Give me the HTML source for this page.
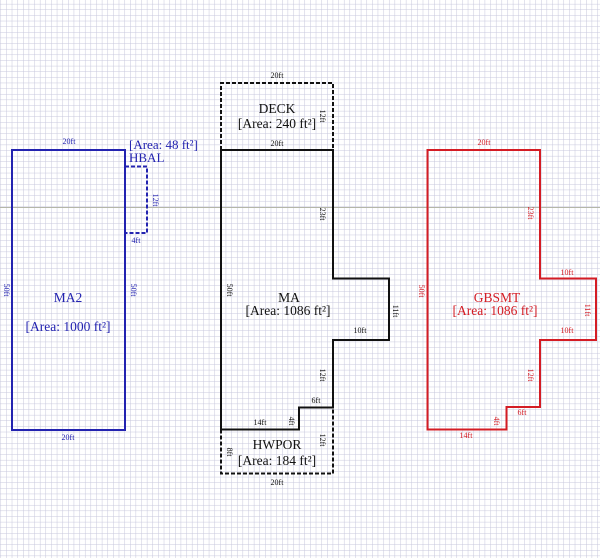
<!DOCTYPE html>
<html><head><meta charset="utf-8"><style>
html,body{margin:0;padding:0;background:#fff;}
svg{display:block;}
text{font-family:"Liberation Serif",serif;}
.d{font-size:8px;text-anchor:middle;}
.a{font-size:13.5px;text-anchor:middle;}
</style></head><body>
<svg width="600" height="558" viewBox="0 0 600 558" xmlns="http://www.w3.org/2000/svg">
<defs>
<pattern id="g" x="0.5" y="3.9" width="5.63" height="5.63" patternUnits="userSpaceOnUse">
<path d="M0 0 H5.63 M0 0 V5.63" stroke="#c6c6dc" stroke-width="1" fill="none"/>
</pattern>
</defs>
<rect width="600" height="558" fill="#fff"/>
<rect width="600" height="558" fill="url(#g)"/>
<line x1="0" y1="207.5" x2="600" y2="207.5" stroke="#b4b6a8" stroke-width="1"/>

<!-- MA2 (blue) -->
<g stroke="#2323b0" fill="none" stroke-width="2">
<rect x="12" y="150" width="113" height="280"/>
<path d="M125 166.5 H147 V233 H125" stroke-dasharray="4,2"/>
</g>
<g fill="#2323b0">
<text class="d" x="69" y="144">20ft</text>
<text class="d" x="68" y="440">20ft</text>
<text class="d" transform="translate(4,290) rotate(90)">50ft</text>
<text class="d" transform="translate(131,290) rotate(90)">50ft</text>
<text class="a" x="68" y="302">MA2</text>
<text class="a" x="68" y="331">[Area: 1000 ft²]</text>
<text x="129" y="149" style="font-size:13px">[Area: 48 ft²]</text>
<text x="129" y="162" style="font-size:13px">HBAL</text>
<text class="d" transform="translate(153,200) rotate(90)">12ft</text>
<text class="d" x="136" y="243">4ft</text>
</g>

<!-- MA / DECK / HWPOR (black) -->
<g stroke="#111" fill="none" stroke-width="2">
<path d="M221 150 H333 V278.5 H389 V340 H333 V407.5 H299 V429.5 H221 Z"/>
<path d="M221 150 V83 H333 V150" stroke-dasharray="4,2"/>
<path d="M221 429.5 V473.5 H333 V407.5" stroke-dasharray="4,2"/>
</g>
<g fill="#111">
<text class="d" x="277" y="78">20ft</text>
<text class="a" x="277" y="113">DECK</text>
<text class="a" x="277" y="128">[Area: 240 ft²]</text>
<text class="d" transform="translate(320,116) rotate(90)">12ft</text>
<text class="d" x="277" y="146">20ft</text>
<text class="d" transform="translate(320,214) rotate(90)">23ft</text>
<text class="d" transform="translate(227,290) rotate(90)">50ft</text>
<text class="a" x="289" y="302">MA</text>
<text class="a" x="288" y="315">[Area: 1086 ft²]</text>
<text class="d" transform="translate(393,311) rotate(90)">11ft</text>
<text class="d" x="360" y="333">10ft</text>
<text class="d" transform="translate(320,375) rotate(90)">12ft</text>
<text class="d" x="316" y="403">6ft</text>
<text class="d" transform="translate(289,421) rotate(90)">4ft</text>
<text class="d" x="260" y="425">14ft</text>
<text class="a" x="277" y="449">HWPOR</text>
<text class="a" x="277" y="465">[Area: 184 ft²]</text>
<text class="d" transform="translate(227,452) rotate(90)">8ft</text>
<text class="d" transform="translate(320,440) rotate(90)">12ft</text>
<text class="d" x="277" y="485">20ft</text>
</g>

<!-- GBSMT (red) -->
<g stroke="#d41c24" fill="none" stroke-width="2">
<path d="M427.5 150 H540 V278.5 H596 V340 H540 V407 H506.5 V429.5 H427.5 Z"/>
</g>
<g fill="#d41c24">
<text class="d" x="484" y="145">20ft</text>
<text class="d" transform="translate(528,213) rotate(90)">23ft</text>
<text class="d" x="567" y="275">10ft</text>
<text class="d" transform="translate(419,291) rotate(90)">50ft</text>
<text class="a" x="497" y="302">GBSMT</text>
<text class="a" x="495" y="315">[Area: 1086 ft²]</text>
<text class="d" transform="translate(585,310) rotate(90)">11ft</text>
<text class="d" x="567" y="333">10ft</text>
<text class="d" transform="translate(528,375) rotate(90)">12ft</text>
<text class="d" x="522" y="415">6ft</text>
<text class="d" transform="translate(494,421) rotate(90)">4ft</text>
<text class="d" x="466" y="438">14ft</text>
</g>
</svg>
</body></html>
